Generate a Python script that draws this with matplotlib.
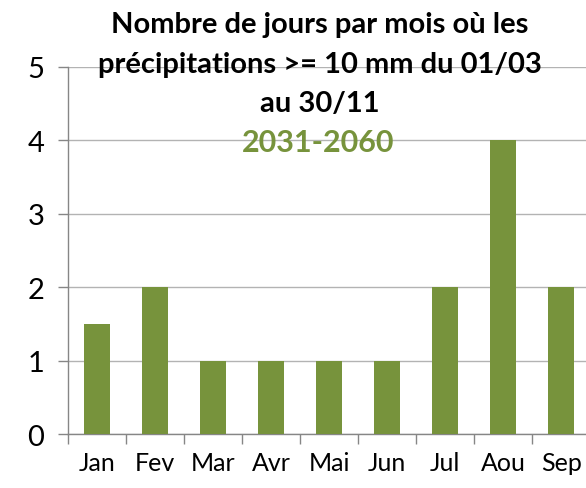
import matplotlib
matplotlib.use("Agg")
import matplotlib.pyplot as plt
import numpy as np

plt.rcParams['font.family'] = ['Lato', 'DejaVu Sans']

months = ["Jan", "Fev", "Mar", "Avr", "Mai", "Jun", "Jul", "Aou", "Sep"]
values = [1.5, 2, 1, 1, 1, 1, 2, 4, 2]
yticks = [0, 1, 2, 3, 4, 5]
title_lines = ["Nombre de jours par mois où les",
               "précipitations >= 10 mm du 01/03",
               "au 30/11"]
subtitle = "2031-2060"

green = "#77933C"
W, H = 586, 489
fig = plt.figure(figsize=(W / 100, H / 100), dpi=100)
ax = fig.add_axes([0.116, 0.110, 0.891, 0.751])
x = np.arange(len(months))
ax.bar(x, values, width=0.45, color=green, zorder=3)
ax.set_xlim(-0.5, len(months) - 0.5)
ax.set_ylim(0, 5)
ax.set_yticks(yticks)
ax.set_yticklabels([str(v) for v in yticks], fontsize=21)
ax.set_xticks(x)
ax.set_xticklabels(months, fontsize=18)
ax.set_xticks(np.arange(len(months)) - 0.5, minor=True)
ax.tick_params(axis='x', which='major', length=0, pad=12)
ax.tick_params(axis='x', which='minor', length=7, color='#868686', width=1)
ax.tick_params(axis='y', length=7, color='#868686', width=1, pad=10)
ax.grid(axis='y', color='#b3b3b3', linewidth=1, zorder=0)
for s in ['top', 'right']:
    ax.spines[s].set_visible(False)
for s in ['left', 'bottom']:
    ax.spines[s].set_color('#868686')
    ax.spines[s].set_linewidth(1)
ax.set_axisbelow(True)

line_y = [22, 62, 101]
for txt, yp in zip(title_lines, line_y):
    fig.text(320 / W, 1 - yp / H, txt, ha='center', va='center_baseline', fontsize=21,
             fontweight='bold', color='black')
fig.text(318 / W, 1 - 140 / H, subtitle, ha='center', va='center_baseline', fontsize=22,
         fontweight='bold', color=green)

fig.savefig("out.png", dpi=100)
